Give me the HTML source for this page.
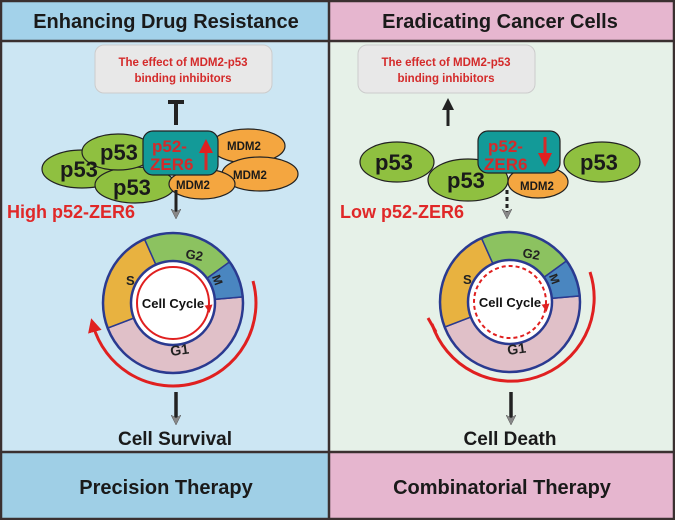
<!DOCTYPE html>
<html><head><meta charset="utf-8"><style>
html,body{margin:0;padding:0;}
svg{display:block;font-family:"Liberation Sans",Arial,sans-serif;font-weight:bold;}
</style></head><body>
<svg width="675" height="520" viewBox="0 0 675 520" xmlns="http://www.w3.org/2000/svg">
<defs>
<marker id="gh" markerWidth="10" markerHeight="10" refX="5" refY="5" orient="auto" markerUnits="userSpaceOnUse">
<path d="M0,0 L10,5 L0,10 L3,5 Z" fill="#888" stroke="#555" stroke-width="0.5"/>
</marker>
<marker id="rh" markerWidth="14" markerHeight="14" refX="7" refY="7" orient="auto" markerUnits="userSpaceOnUse">
<path d="M0,0 L14,7 L0,14 Z" fill="#e02020"/>
</marker>
<marker id="rhs" markerWidth="8" markerHeight="8" refX="4" refY="4" orient="auto" markerUnits="userSpaceOnUse">
<path d="M0,0 L8,4 L0,8 Z" fill="#e02020"/>
</marker>
<marker id="bh" markerWidth="12" markerHeight="12" refX="6" refY="6" orient="auto" markerUnits="userSpaceOnUse">
<path d="M0,0 L12,6 L0,12 Z" fill="#222"/>
</marker>
</defs>
<!-- backgrounds -->
<rect x="0" y="0" width="330" height="41" fill="#a3d2ea"/>
<rect x="330" y="0" width="345" height="41" fill="#e6b6cf"/>
<rect x="0" y="41" width="330" height="411" fill="#cce6f3"/>
<rect x="330" y="41" width="345" height="411" fill="#e6f1e8"/>
<rect x="0" y="452" width="330" height="68" fill="#9fcfe6"/>
<rect x="330" y="452" width="345" height="68" fill="#e6b6cf"/>
<g stroke="#3a3030" stroke-width="2.5" fill="none">
<rect x="1" y="1" width="673" height="518"/>
<line x1="329" y1="0" x2="329" y2="520"/>
<line x1="0" y1="41" x2="675" y2="41"/>
<line x1="0" y1="452" x2="675" y2="452"/>
</g>
<g font-size="20" fill="#1a1a1a" text-anchor="middle">
<text x="166" y="28">Enhancing Drug Resistance</text>
<text x="500" y="28">Eradicating Cancer Cells</text>
<text x="166" y="494">Precision Therapy</text>
<text x="502" y="494">Combinatorial Therapy</text>
<text x="175" y="445" font-size="19">Cell Survival</text>
<text x="510" y="445" font-size="19">Cell Death</text>
</g>
<!-- LEFT -->
<rect x="95" y="45" width="177" height="48" rx="9" fill="#e8e8e8" stroke="#ccc"/>
<text x="183" y="66" font-size="11.5" fill="#d42a2a" text-anchor="middle">The effect of MDM2-p53</text>
<text x="183" y="82" font-size="11.5" fill="#d42a2a" text-anchor="middle">binding inhibitors</text>
<line x1="168" y1="102" x2="184" y2="102" stroke="#222" stroke-width="4"/>
<line x1="176" y1="102" x2="176" y2="125" stroke="#222" stroke-width="4"/>
<g stroke="#222" stroke-width="1.2">
<ellipse cx="82" cy="169" rx="40" ry="19" fill="#8fc040"/>
<ellipse cx="135" cy="185" rx="40" ry="18" fill="#8fc040"/>
<ellipse cx="118" cy="152" rx="36" ry="18" fill="#8fc040"/>
<ellipse cx="248" cy="146" rx="37" ry="17" fill="#f4a640"/>
<ellipse cx="260" cy="174" rx="38" ry="17" fill="#f4a640"/>
<ellipse cx="202" cy="184" rx="33" ry="15" fill="#f4a640"/>
<rect x="143" y="131" width="75" height="44" rx="10" fill="#139a98"/>
</g>
<g font-size="22" fill="#1a1a1a">
<text x="60" y="177">p53</text><text x="100" y="160">p53</text><text x="113" y="195">p53</text>
</g>
<g font-size="11.5" fill="#1a1a1a">
<text x="227" y="150">MDM2</text><text x="233" y="179">MDM2</text><text x="176" y="189">MDM2</text>
</g>
<text x="152" y="152" font-size="17" fill="#d42a2a">p52-</text>
<text x="150" y="170" font-size="17" fill="#d42a2a">ZER6</text>
<line x1="206" y1="170" x2="206" y2="146" stroke="#d42a2a" stroke-width="3" marker-end="url(#rh)"/>
<text x="7" y="218" font-size="18" fill="#e02828">High p52-ZER6</text>
<line x1="176" y1="190" x2="176" y2="214" stroke="#222" stroke-width="3" marker-end="url(#gh)"/>
<!-- left cycle -->
<g transform="translate(173,303)">
<g stroke="#2a3a90" stroke-width="1.5">
<path d="M0,0 L69.7,-6.1 A70,70 0 0 1 -65.4,25.1 Z" fill="#e0c0c8"/>
<path d="M0,0 L-65.4,25.1 A70,70 0 0 1 -28.5,-63.9 Z" fill="#e8b240"/>
<path d="M0,0 L-28.5,-63.9 A70,70 0 0 1 56.6,-41.1 Z" fill="#8cc260"/>
<path d="M0,0 L56.6,-41.1 A70,70 0 0 1 69.7,-6.1 Z" fill="#4a86c0"/>
<circle r="70" fill="none" stroke-width="2.5"/>
<circle r="42" fill="#fff" stroke-width="2.5"/>
</g>
<circle r="36" fill="none" stroke="#e02020" stroke-width="2"/>
<path d="M34,-10 L36,6" stroke="none" fill="none" marker-end="url(#rhs)"/>
<path d="M80,-22 A82,82 0 1 1 -80,22" fill="none" stroke="#e02020" stroke-width="3" marker-end="url(#rh)"/>
<text x="0" y="5" font-size="13" fill="#111" text-anchor="middle">Cell Cycle</text>
<text x="-47" y="-18" font-size="13" fill="#222">S</text>
<text x="12" y="-45" font-size="13" fill="#222" transform="rotate(10 12 -45)">G2</text>
<text x="40" y="-20" font-size="12" fill="#222" transform="rotate(70 44 -24)">M</text>
<text x="-2" y="53" font-size="14" fill="#222" transform="rotate(-8 -2 53)">G1</text>
</g>
<line x1="176" y1="392" x2="176" y2="420" stroke="#222" stroke-width="3.5" marker-end="url(#gh)"/>
<!-- RIGHT -->
<rect x="358" y="45" width="177" height="48" rx="9" fill="#e8e8e8" stroke="#ccc"/>
<text x="446" y="66" font-size="11.5" fill="#d42a2a" text-anchor="middle">The effect of MDM2-p53</text>
<text x="446" y="82" font-size="11.5" fill="#d42a2a" text-anchor="middle">binding inhibitors</text>
<line x1="448" y1="126" x2="448" y2="104" stroke="#222" stroke-width="3" marker-end="url(#bh)"/>
<g stroke="#222" stroke-width="1.2">
<ellipse cx="397" cy="162" rx="37" ry="20" fill="#8fc040"/>
<ellipse cx="538" cy="182" rx="30" ry="16" fill="#f4a640"/>
<ellipse cx="468" cy="180" rx="40" ry="21" fill="#8fc040"/>
<rect x="478" y="131" width="82" height="42" rx="10" fill="#139a98"/>
<ellipse cx="602" cy="162" rx="38" ry="20" fill="#8fc040"/>
</g>
<g font-size="22" fill="#1a1a1a">
<text x="375" y="170">p53</text><text x="447" y="188">p53</text><text x="580" y="170">p53</text>
</g>
<text x="520" y="190" font-size="11.5" fill="#1a1a1a">MDM2</text>
<text x="488" y="152" font-size="17" fill="#d42a2a">p52-</text>
<text x="484" y="170" font-size="17" fill="#d42a2a">ZER6</text>
<line x1="545" y1="137" x2="545" y2="160" stroke="#d42a2a" stroke-width="3" marker-end="url(#rh)"/>
<text x="340" y="218" font-size="18" fill="#e02828">Low p52-ZER6</text>
<line x1="507" y1="190" x2="507" y2="214" stroke="#222" stroke-width="3" stroke-dasharray="4,3" marker-end="url(#gh)"/>
<g transform="translate(510,302)">
<g stroke="#2a3a90" stroke-width="1.5">
<path d="M0,0 L69.7,-6.1 A70,70 0 0 1 -65.4,25.1 Z" fill="#e0c0c8"/>
<path d="M0,0 L-65.4,25.1 A70,70 0 0 1 -28.5,-63.9 Z" fill="#e8b240"/>
<path d="M0,0 L-28.5,-63.9 A70,70 0 0 1 56.6,-41.1 Z" fill="#8cc260"/>
<path d="M0,0 L56.6,-41.1 A70,70 0 0 1 69.7,-6.1 Z" fill="#4a86c0"/>
<circle r="70" fill="none" stroke-width="2.5"/>
<circle r="42" fill="#fff" stroke-width="2.5"/>
</g>
<circle r="36" fill="none" stroke="#e02020" stroke-width="2" stroke-dasharray="4,3"/>
<path d="M34,-10 L36,6" stroke="none" fill="none" marker-end="url(#rhs)"/>
<path d="M80,-30 A82,82 0 1 1 -78,22" fill="none" stroke="#e02020" stroke-width="3"/>
<line x1="-82" y1="16" x2="-74" y2="30" stroke="#e02020" stroke-width="3"/>
<text x="0" y="5" font-size="13" fill="#111" text-anchor="middle">Cell Cycle</text>
<text x="-47" y="-18" font-size="13" fill="#222">S</text>
<text x="12" y="-45" font-size="13" fill="#222" transform="rotate(10 12 -45)">G2</text>
<text x="40" y="-20" font-size="12" fill="#222" transform="rotate(70 44 -24)">M</text>
<text x="-2" y="53" font-size="14" fill="#222" transform="rotate(-8 -2 53)">G1</text>
</g>
<line x1="511" y1="392" x2="511" y2="420" stroke="#222" stroke-width="3.5" marker-end="url(#gh)"/>
</svg>
</body></html>
